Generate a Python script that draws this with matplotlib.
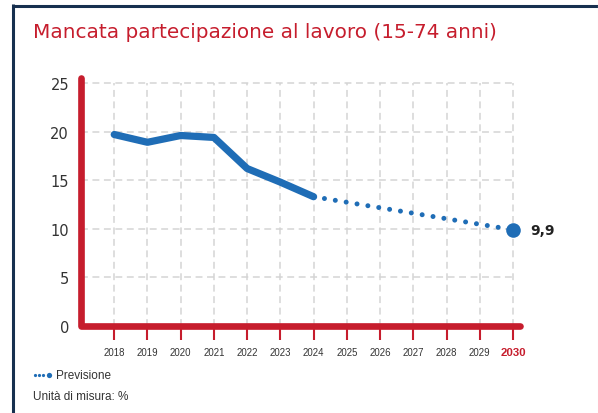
import matplotlib
matplotlib.use("Agg")
import matplotlib.pyplot as plt
from matplotlib.lines import Line2D

# ---- data ----
years_hist = [2018, 2019, 2020, 2021, 2022, 2023, 2024]
values_hist = [19.7, 18.9, 19.6, 19.4, 16.2, 14.8, 13.3]
years_fore = [2024, 2030]
values_fore = [13.3, 9.9]
all_years = list(range(2018, 2031))
year_labels = [str(y) for y in all_years]
y_ticks = [0, 5, 10, 15, 20, 25]
y_labels = [str(v) for v in y_ticks]
title = "Mancata partecipazione al lavoro (15-74 anni)"
end_label = "9,9"
legend_label = "Previsione"
unit_note = "Unità di misura: %"

RED = "#C61D2D"
BLUE = "#1F6DB6"
NAVY = "#17304F"
GRID = "#D4D4D4"
TXT = "#333333"
NARROW = ["Liberation Sans", "DejaVu Sans"]

W, H = 598, 414
fig = plt.figure(figsize=(W / 100, H / 100), dpi=100)


def fx(px):
    return px / W


def fy(py):
    return 1 - py / H


x0, x1 = 2017, 2030.2
y0, y1 = 0, 25.5
px_bottom, px_per_unit = 327, 9.72
px_top = px_bottom - (y1 - y0) * px_per_unit
ax = fig.add_axes([fx(81), fy(px_bottom), fx(519.6) - fx(81), (px_bottom - px_top) / H])
ax.set_xlim(x0, x1)
ax.set_ylim(y0, y1)
for s in ax.spines.values():
    s.set_visible(False)
ax.patch.set_alpha(0)

# grid
ax.hlines(y_ticks[1:], x0, all_years[-1], colors=GRID, linewidth=1.1,
          linestyles=(0, (4.5, 3)), zorder=1)
ax.vlines(all_years, y0, y_ticks[-1], colors=GRID, linewidth=1.1,
          linestyles=(0, (4.5, 3)), zorder=1)

# red L axis
ax.plot([0, 0, 1], [1, 0, 0], transform=ax.transAxes, clip_on=False, color=RED,
        lw=4.8, solid_capstyle="round", solid_joinstyle="round", zorder=3)

# data lines
ax.plot(years_hist, values_hist, color=BLUE, lw=5.2, solid_capstyle="round",
        solid_joinstyle="round", zorder=4)
ax.plot(years_fore, values_fore, color=BLUE, lw=3.6, linestyle=(0, (0.001, 2.2)),
        dash_capstyle="round", zorder=4)
ax.plot([years_fore[-1]], [values_fore[-1]], "o", color=BLUE, markersize=10.5,
        markeredgewidth=0, zorder=5)
ax.annotate(end_label, (years_fore[-1], values_fore[-1]), xytext=(17, 0),
            textcoords="offset pixels", ha="left", va="center", fontsize=10,
            fontweight="bold", color="#222222", family="DejaVu Sans")

# ticks
ax.set_yticks(y_ticks)
ax.set_yticklabels(y_labels, fontsize=10.5, color=TXT, family="DejaVu Sans")
ax.tick_params(axis="y", length=0, pad=8.6)
ax.set_xticks(all_years)
ax.set_xticklabels(year_labels, fontsize=6.9, color=TXT, family=NARROW)
ax.tick_params(axis="x", length=10, width=1.5, color=RED, pad=5.3)
last = ax.get_xticklabels()[-1]
last.set_color(RED)
last.set_fontweight("bold")
last.set_fontsize(8.2)

# title
fig.text(fx(33), fy(37.5), title, color=RED, fontsize=14.4, ha="left", va="baseline",
         family="DejaVu Sans")

# legend
fig.add_artist(Line2D([fx(34.5), fx(38.8), fx(43.1)], [fy(376)] * 3, transform=fig.transFigure,
                      linestyle="none", marker="o", markersize=2.3, color=BLUE,
                      markeredgewidth=0))
fig.add_artist(Line2D([fx(49)], [fy(376)], transform=fig.transFigure,
                      linestyle="none", marker="o", markersize=3.8, color=BLUE,
                      markeredgewidth=0))
fig.text(fx(56), fy(376), legend_label, fontsize=8.5, color=TXT, ha="left",
         va="center", family=NARROW)
fig.text(fx(33), fy(397), unit_note, fontsize=8.5, color=TXT, ha="left",
         va="center", family=NARROW)

# frame border
fig.add_artist(Line2D([fx(12.5), fx(12.5)], [fy(5), fy(414)], transform=fig.transFigure,
                      color=NAVY, lw=2.2, solid_capstyle="butt"))
fig.add_artist(Line2D([fx(11.5), fx(598)], [fy(6.5), fy(6.5)], transform=fig.transFigure,
                      color=NAVY, lw=2.2, solid_capstyle="butt"))
fig.add_artist(Line2D([fx(597.5), fx(597.5)], [fy(7), fy(414)], transform=fig.transFigure,
                      color="#EEEEEE", lw=0.8))

fig.savefig("out.png", dpi=100)
